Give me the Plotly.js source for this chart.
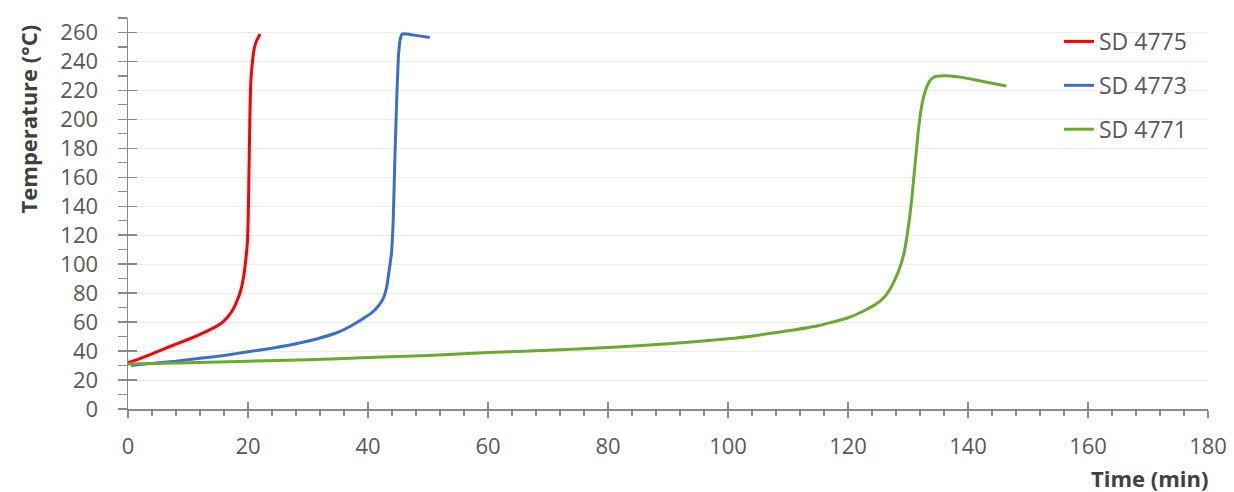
<!DOCTYPE html>
<html>
<head>
<meta charset="utf-8">
<script src="https://cdn.plot.ly/plotly-3.0.1.min.js"></script>
<style>html,body{margin:0;padding:0;background:#fff;}#chart{width:1234px;height:492px;}</style>
</head>
<body>
<div id="chart"></div>
<script>
// SD 4775
const sd4775_t = [0, 2, 4, 6, 8, 10, 12, 14, 15.5, 16.5, 17.4, 18.3, 18.8, 19.3, 19.6, 19.9, 20.05, 20.15, 20.25, 20.35, 20.5, 20.8, 21.1, 21.5, 22.0];
const sd4775_T = [32, 34.8, 38, 41.5, 44.8, 48, 51.5, 55.5, 59, 63, 68, 76, 82, 92, 102, 115, 135, 160, 185, 210, 228, 242, 250, 255, 259];
// SD 4773
const sd4773_t = [0.5, 4, 8, 12, 16, 20, 24, 28, 32, 35, 37, 39, 40.5, 41.7, 42.5, 43.1, 43.5, 43.9, 44.2, 44.5, 44.8, 45.1, 45.4, 45.7, 46.4, 48, 50.3];
const sd4773_T = [30, 31.5, 33, 35, 37, 39.5, 42, 45, 49, 53, 57, 62, 66, 71, 76, 84, 95, 107, 130, 176, 215, 245, 256, 259, 259, 258, 256.5];
// SD 4771
const sd4771_t = [0, 10, 20, 30, 40, 50, 60, 70, 80, 90, 100, 105, 110, 115, 120, 122.5, 124.5, 126, 127.3, 128.4, 129.3, 130, 130.6, 131.2, 131.8, 132.4, 133, 133.7, 134.5, 135.4, 137, 139, 141.5, 144, 146.4];
const sd4771_T = [31, 32, 33, 34, 35.5, 37, 39, 40.5, 42.5, 45, 48.5, 51, 54, 57.5, 63, 67.5, 72, 77, 85, 95, 107, 124, 144, 170, 195, 212, 221, 227, 229.5, 230, 230, 229, 227, 225, 223];

const xTicks = [0, 20, 40, 60, 80, 100, 120, 140, 160, 180];
const yTicks = [0, 20, 40, 60, 80, 100, 120, 140, 160, 180, 200, 220, 240, 260];

const seriesNames = ['SD 4775', 'SD 4773', 'SD 4771'];
const seriesColors = ['#ff0000', '#3a6fce', '#6aaa2e'];

const FONT = 'Open Sans, Liberation Sans, sans-serif';

const traces = [
  {x: sd4775_t, y: sd4775_T, name: seriesNames[0], legendgroup: 'a', mode: 'lines', line: {color: seriesColors[0], width: 3, shape: 'spline', smoothing: 0.5}},
  {x: sd4773_t, y: sd4773_T, name: seriesNames[1], legendgroup: 'b', mode: 'lines', line: {color: seriesColors[1], width: 3, shape: 'spline', smoothing: 0.5}},
  {x: sd4771_t, y: sd4771_T, name: seriesNames[2], legendgroup: 'c', mode: 'lines', line: {color: seriesColors[2], width: 3, shape: 'spline', smoothing: 0.5}},
  {x: [], y: [], xaxis: 'x2', yaxis: 'y2', showlegend: false, hoverinfo: 'skip'}
];

const axisColor = '#8a8a8a';
const tickFont = {family: FONT, size: 22, color: '#595959'};

const layout = {
  width: 1234, height: 492,
  margin: {l: 128, r: 26, t: 18, b: 83},
  paper_bgcolor: '#ffffff', plot_bgcolor: '#ffffff',
  showlegend: true,
  legend: {x: 0.862, y: 0.995, xanchor: 'left', yanchor: 'top', bgcolor: 'rgba(0,0,0,0)',
           font: {family: FONT, size: 23, color: '#595959'},
           tracegroupgap: 11, itemwidth: 30},
  xaxis: {range: [0, 180], tickvals: xTicks, ticktext: xTicks.map(String), ticks: 'outside', ticklen: 7, tickwidth: 1.5, tickcolor: axisColor,
          showline: true, linecolor: axisColor, linewidth: 1.5, showgrid: false, zeroline: false, tickfont: tickFont, ticklabelstandoff: 10,
          minor: {dtick: 4, tick0: 0, ticks: 'outside', ticklen: 5, tickwidth: 1.2, tickcolor: axisColor, showgrid: false}},
  yaxis: {range: [0, 270], tickvals: yTicks, ticktext: yTicks.map(String), ticks: 'outside', ticklen: 9, tickwidth: 1.5, tickcolor: axisColor,
          showline: true, linecolor: axisColor, linewidth: 1.5, showgrid: true, gridcolor: '#ececec', gridwidth: 1, zeroline: false, tickfont: tickFont, ticklabelstandoff: 15,
          minor: {dtick: 10, tick0: 0, ticks: 'outside', ticklen: 9, tickwidth: 1.2, tickcolor: axisColor, showgrid: false}},
  xaxis2: {overlaying: 'x', anchor: 'y', side: 'bottom', range: [0, 180], tickvals: xTicks, ticks: 'inside', ticklen: 7, tickwidth: 1.5, tickcolor: axisColor,
           showticklabels: false, showgrid: false, zeroline: false, showline: false},
  yaxis2: {overlaying: 'y', anchor: 'x', side: 'left', range: [0, 270], tickvals: yTicks, ticks: 'inside', ticklen: 9, tickwidth: 1.5, tickcolor: axisColor,
           showticklabels: false, showgrid: false, zeroline: false, showline: false},
  annotations: [
    {text: '<b>Temperature (°C)</b>', xref: 'paper', yref: 'paper', x: -0.093, y: 0.742, textangle: -90, showarrow: false,
     xanchor: 'center', yanchor: 'middle', font: {family: FONT, size: 22, color: '#404040'}},
    {text: '<b>Time (min)</b>', xref: 'paper', yref: 'paper', x: 0.946, y: -0.176, showarrow: false,
     xanchor: 'center', yanchor: 'middle', font: {family: FONT, size: 22, color: '#404040'}}
  ]
};

Plotly.newPlot('chart', traces, layout, {staticPlot: true, displayModeBar: false});
</script>
</body>
</html>
